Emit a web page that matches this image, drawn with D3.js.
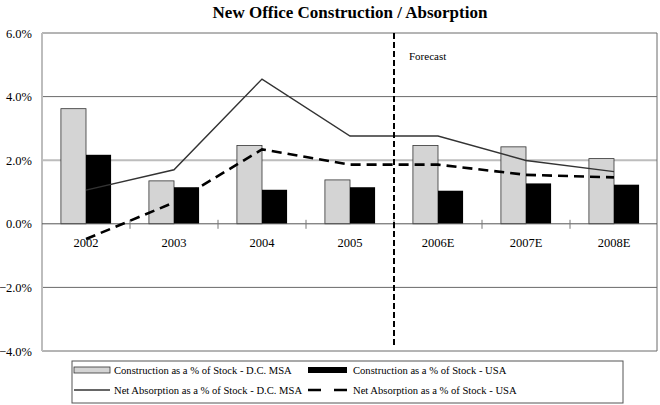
<!DOCTYPE html>
<html><head><meta charset="utf-8">
<script src="https://cdn.jsdelivr.net/npm/d3@7/dist/d3.min.js"></script>
<style>body{margin:0;background:#fff}svg{display:block}text{font-family:"Liberation Serif","Times New Roman",serif}</style>
</head><body><svg id="c" width="660" height="405"></svg>
<script>
const categories = ["2002","2003","2004","2005","2006E","2007E","2008E"];
const constructionDC = [3.62,1.35,2.46,1.38,2.46,2.42,2.05];
const constructionUSA = [2.17,1.15,1.07,1.15,1.04,1.27,1.23];
const absorptionDC = [1.06,1.70,4.55,2.76,2.76,1.99,1.64];
const absorptionUSA = [-0.48,0.67,2.34,1.86,1.86,1.54,1.46];
const yTicks = [-4,-2,0,2,4,6];
const seriesNames = ["Construction as a % of Stock - D.C. MSA","Construction as a % of Stock - USA","Net Absorption as a % of Stock - D.C. MSA","Net Absorption as a % of Stock - USA"];
const forecastLabel = "Forecast";
const title = "New Office Construction / Absorption";

const svg = d3.select("#c");
const L=42,R=658,T=33,B=351;
const x = d3.scaleBand().domain(categories).range([L,R]).paddingInner(0.43).paddingOuter(0.215);
const x1 = d3.scaleBand().domain([0,1]).range([0,x.bandwidth()]);
const y = d3.scaleLinear().domain([-4,6]).range([B,T]);
const cx = c => x(c)+x.bandwidth()/2;

svg.append("text").attr("x",350).attr("y",18).attr("text-anchor","middle")
  .attr("font-weight","bold").attr("font-size",17).text(title);

// gridlines
yTicks.forEach(t=>{
  if(t===0) return;
  svg.append("line").attr("x1",L).attr("x2",R-1).attr("y1",y(t)).attr("y2",y(t))
    .attr("stroke", t===2?"#bdbdbd":"#6a6a6a").attr("stroke-width", t===2?2:1);
});
// right border
svg.append("line").attr("x1",R-1).attr("x2",R-1).attr("y1",T).attr("y2",B).attr("stroke","#6a6a6a");

// y axis
const ya = d3.axisLeft(y).tickValues(yTicks).tickFormat(d=>d3.format(".1f")(d)+"%").tickSize(0).tickPadding(10);
const yg = svg.append("g").attr("transform",`translate(${L},0)`).call(ya);
yg.select(".domain").remove();
yg.selectAll("text").attr("font-size",12.5).attr("fill","#000").attr("font-family","Liberation Serif");
svg.append("line").attr("x1",L).attr("x2",L).attr("y1",T).attr("y2",B).attr("stroke","#bdbdbd").attr("stroke-width",2);

// bars
const g = svg.append("g");
categories.forEach((c,i)=>{
  g.append("rect").attr("x",x(c)+x1(0)).attr("width",x1.bandwidth()).attr("y",y(constructionDC[i]))
    .attr("height",y(0)-y(constructionDC[i])).attr("fill","#d4d4d4").attr("stroke","#333").attr("stroke-width",0.8);
  g.append("rect").attr("x",x(c)+x1(1)).attr("width",x1.bandwidth()).attr("y",y(constructionUSA[i]))
    .attr("height",y(0)-y(constructionUSA[i])).attr("fill","#000");
});

// x axis at 0
svg.append("line").attr("x1",L).attr("x2",R-1).attr("y1",y(0)).attr("y2",y(0)).attr("stroke","#555");
categories.slice(1).forEach(c=>{
  const xx = x(c)-x.step()*x.paddingInner()/2;
  svg.append("line").attr("x1",xx).attr("x2",xx).attr("y1",y(0)-4).attr("y2",y(0)+5).attr("stroke","#777");
});
categories.forEach(c=>{
  svg.append("text").attr("x",cx(c)).attr("y",y(0)+23).attr("text-anchor","middle").attr("font-size",12.5).text(c);
});

// lines
const line = d3.line().x((d,i)=>cx(categories[i])).y(d=>y(d));
svg.append("path").attr("d",line(absorptionDC)).attr("fill","none").attr("stroke","#333").attr("stroke-width",1.4);
svg.append("path").attr("d",line(absorptionUSA)).attr("fill","none").attr("stroke","#000").attr("stroke-width",2.6).attr("stroke-dasharray","10,6");

// forecast
const fx = x("2006E")-x.step()*x.paddingInner()/2;
svg.append("line").attr("x1",fx).attr("x2",fx).attr("y1",T).attr("y2",B-3).attr("stroke","#000").attr("stroke-width",2).attr("stroke-dasharray","6,3");
svg.append("text").attr("x",fx+15).attr("y",60).attr("font-size",11).text(forecastLabel);

// legend
svg.append("rect").attr("x",72).attr("y",361).attr("width",551).attr("height",42).attr("fill","#fff").attr("stroke","#555");
const lx=[74,308], ly=[370,390];
svg.append("rect").attr("x",lx[0]).attr("y",ly[0]-3).attr("width",36).attr("height",6).attr("fill","#d4d4d4").attr("stroke","#333").attr("stroke-width",0.8);
svg.append("rect").attr("x",lx[1]).attr("y",ly[0]-3).attr("width",39).attr("height",6).attr("fill","#000");
svg.append("line").attr("x1",lx[0]).attr("x2",lx[0]+36).attr("y1",ly[1]).attr("y2",ly[1]).attr("stroke","#333").attr("stroke-width",1.4);
svg.append("line").attr("x1",lx[1]).attr("x2",lx[1]+39).attr("y1",ly[1]).attr("y2",ly[1]).attr("stroke","#000").attr("stroke-width",2.6).attr("stroke-dasharray","13,13");
[[114,ly[0]],[353,ly[0]],[114,ly[1]],[353,ly[1]]].forEach((p,i)=>{
  svg.append("text").attr("x",p[0]).attr("y",p[1]+4).attr("font-size",10.6).text(seriesNames[i]);
});
</script></body></html>
